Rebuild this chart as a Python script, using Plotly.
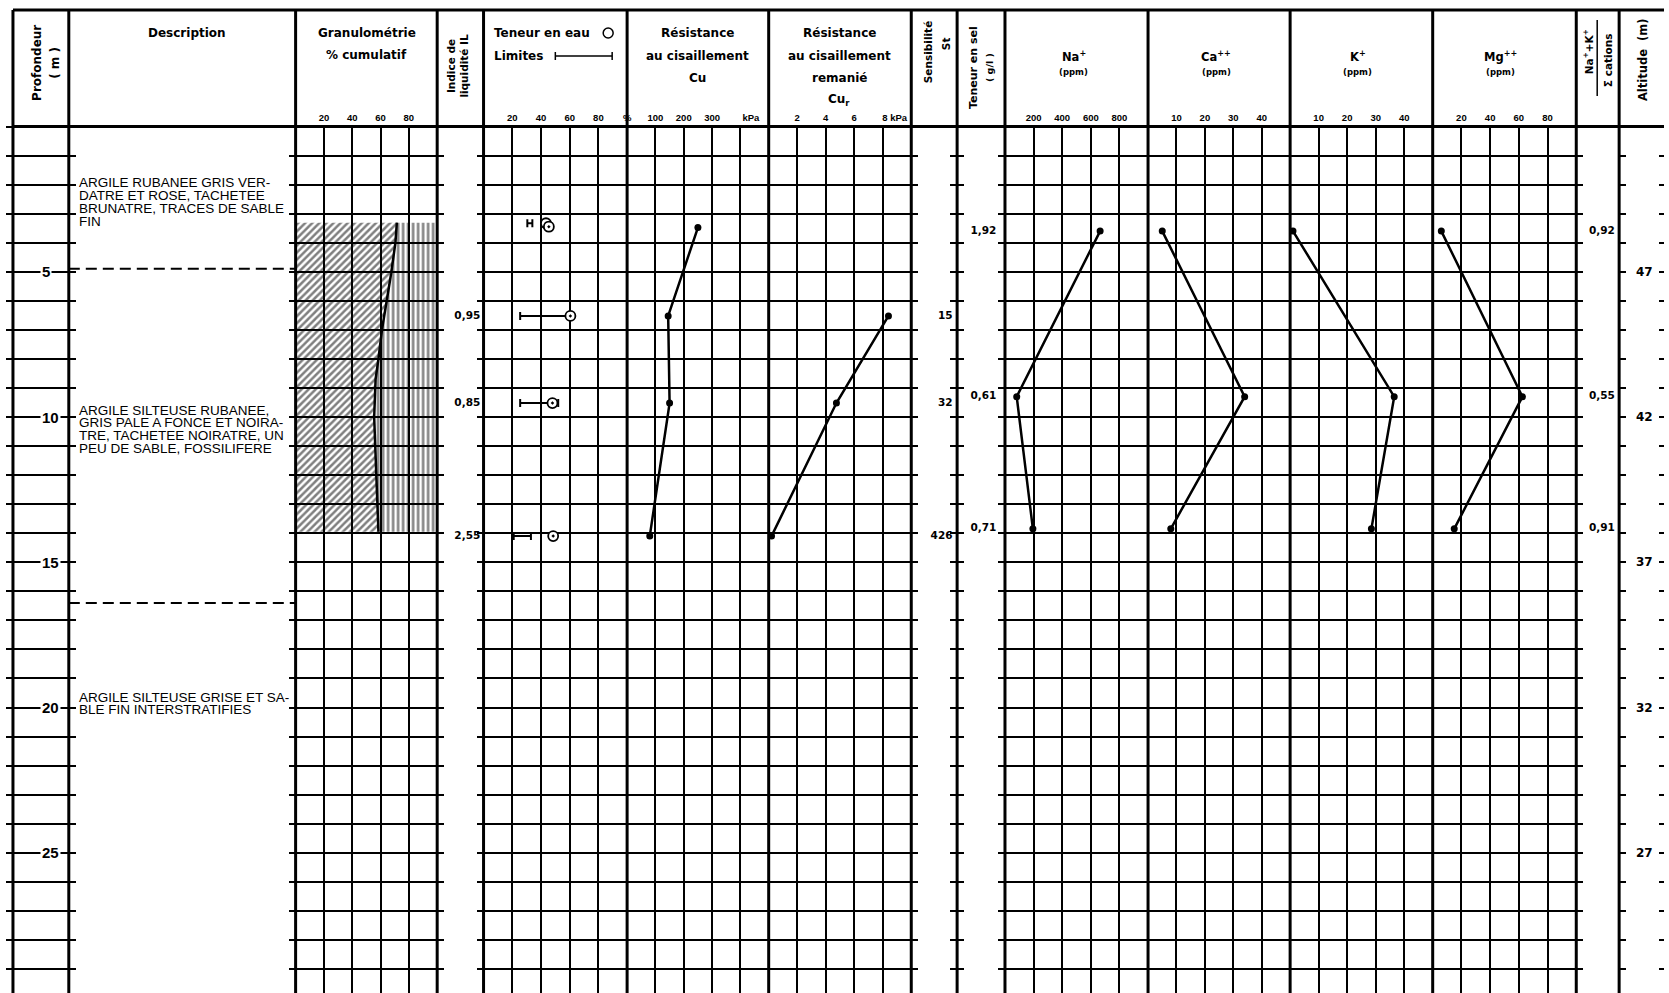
import plotly.graph_objects as go

# ---------------- borehole data ----------------
depth_ticks = [5, 10, 15, 20, 25]
surface_altitude = 52
altitude_ticks = [47, 42, 37, 32, 27]

layer_boundaries = [4.9, 16.4]
layer_text_depth = [1.94, 9.76, 19.64]
layer_text = [
    ["ARGILE RUBANEE GRIS VER-", "DATRE ET ROSE, TACHETEE",
     "BRUNATRE, TRACES DE SABLE", "FIN"],
    ["ARGILE SILTEUSE RUBANEE,", "GRIS PALE A FONCE ET NOIRA-",
     "TRE, TACHETEE NOIRATRE, UN", "PEU DE SABLE, FOSSILIFERE"],
    ["ARGILE SILTEUSE GRISE ET SA-", "BLE FIN INTERSTRATIFIES"],
]

gran_depth = [3.31, 4.0, 5.05, 6.0, 7.0, 8.0, 8.7, 10.0, 11.0, 12.0, 13.95]
gran_cumul = [71.5, 70.5, 67.5, 64.5, 61.0, 58.5, 56.5, 55.5, 56.0, 57.0, 58.5]
gran_ticks = [20, 40, 60, 80]

il_depth = [6.52, 9.52, 14.1]
il_values = ["0,95", "0,85", "2,55"]

water_depth = [3.33, 3.45, 6.52, 9.52, 14.1]
water_content = [43.5, 45.5, 60.5, 48.0, 48.5]
limits_depth = [3.33, 6.52, 9.52, 14.1]
plastic_limit = [30.5, 25.5, 25.5, 21.0]
liquid_limit = [34.0, 61.0, 52.0, 33.0]
water_ticks = [20, 40, 60, 80, 100]
water_ticktext = ["20", "40", "60", "80", "%"]

cu_depth = [3.48, 6.52, 9.52, 14.1]
cu_values = [250, 145, 150, 80]
cu_ticks = [100, 200, 300, 400]
cu_ticktext = ["100", "200", "300", "kPa"]

cur_depth = [6.52, 9.52, 14.1]
cur_values = [8.4, 4.75, 0.2]
cur_ticks = [2, 4, 6, 8]
cur_ticktext = ["2", "4", "6", "8 kPa"]

st_depth = [6.52, 9.52, 14.1]
st_values = ["15", "32", "426"]

chem_depth = [3.6, 9.3, 13.85]
salt_values = ["1,92", "0,61", "0,71"]
na_ppm = [665, 82, 195]
ca_ppm = [5, 34, 8]
k_ppm = [1, 36.5, 28.5]
mg_ppm = [6, 62.5, 15]
na_ticks = [200, 400, 600, 800]
ca_ticks = [10, 20, 30, 40]
k_ticks = [10, 20, 30, 40]
mg_ticks = [20, 40, 60, 80]
ratio_values = ["0,92", "0,55", "0,91"]

# ---------------- page geometry (pixels) ----------------
W, H = 1669, 993
TOP = 10          # top rule of the header
Y0 = 126.5        # header bottom = depth 0
PX_M = 29.05      # pixels per metre
DMAX = (H - Y0) / PX_M

HEAD_FONT = "DejaVu Sans"
TICK_FONT = "Liberation Sans"
NB = "\u00a0"


def fx(x):
    return x / W


def fy(y):
    return 1 - y / H


names = ["depth", "desc", "gran", "il", "water", "cu", "cur", "st", "salt",
         "na", "ca", "k", "mg", "ratio", "alt"]
edges = [13, 69, 296.5, 438.5, 485, 629, 771, 914, 960, 1008, 1151.5, 1294,
         1437, 1581, 1624, 1669]
grid_panels = {"depth", "gran", "water", "cu", "cur", "na", "ca", "k", "mg"}
scales = {
    "gran": ([0, 100], gran_ticks, [str(v) for v in gran_ticks]),
    "water": ([0, 100], water_ticks, water_ticktext),
    "cu": ([0, 500], cu_ticks, cu_ticktext[:-1] + [NB * 8 + cu_ticktext[-1]]),
    "cur": ([0, 10], cur_ticks,
            cur_ticktext[:-1] + [NB * 9 + cur_ticktext[-1].replace(" ", NB)]),
    "na": ([0, 1000], na_ticks, [str(v) for v in na_ticks]),
    "ca": ([0, 50], ca_ticks, [str(v) for v in ca_ticks]),
    "k": ([0, 50], k_ticks, [str(v) for v in k_ticks]),
    "mg": ([0, 100], mg_ticks, [str(v) for v in mg_ticks]),
}

ax_id = {}
layout = dict(
    width=W, height=H, margin=dict(l=0, r=0, t=0, b=0),
    paper_bgcolor="white", plot_bgcolor="white", showlegend=False,
)
PLOT_DOMAIN = [0, fy(Y0)]

for i, name in enumerate(names, start=1):
    sfx = "" if i == 1 else str(i)
    ax_id[name] = ("x" + sfx, "y" + sfx)
    left, right = edges[i - 1], edges[i]
    xa = dict(domain=[fx(left), fx(right)], anchor="y" + sfx, side="top",
              showline=False, zeroline=False, ticks="", fixedrange=True)
    if name in scales:
        rng, tv, tt = scales[name]
        xa.update(range=rng, tickvals=tv, ticktext=tt, showgrid=True,
                  gridcolor="black", gridwidth=1.5, showticklabels=True,
                  ticklabelstandoff=3, tickangle=0,
                  tickfont=dict(family=TICK_FONT, size=9.5, color="black",
                                weight="bold"))
    else:
        xa.update(range=[0, 1], showgrid=False, showticklabels=False)
    ya = dict(domain=PLOT_DOMAIN, anchor="x" + sfx, range=[DMAX, 0],
              tick0=0, dtick=1, ticks="outside", ticklen=6, tickwidth=2,
              tickcolor="black", mirror=("ticks" if name != "alt" else False),
              showline=False, zeroline=False, showticklabels=False,
              showgrid=name in grid_panels, gridcolor="black", gridwidth=2,
              fixedrange=True)
    layout["xaxis" + sfx] = xa
    layout["yaxis" + sfx] = ya

# altitude scale on the right-hand column
ALT_AXIS = "y16"
layout["yaxis16"] = dict(
    overlaying=ax_id["alt"][1], anchor=ax_id["alt"][0], side="right",
    domain=PLOT_DOMAIN,
    range=[surface_altitude - DMAX, surface_altitude],
    tick0=surface_altitude, dtick=1,
    ticks="inside", ticklen=5, tickwidth=2, tickcolor="black",
    showticklabels=False, showline=False, showgrid=False,
    zeroline=False, fixedrange=True,
)

fig = go.Figure()


def ax(name):
    x, y = ax_id[name]
    return dict(xaxis=x, yaxis=y)


BLACK = "black"

# ---- granulometry: clay (diagonal hatch) and silt (vertical hatch) ----
fig.add_trace(go.Scatter(
    x=gran_cumul + [0, 0], y=gran_depth + [gran_depth[-1], gran_depth[0]],
    mode="lines", fill="toself", line=dict(width=0, color=BLACK),
    fillcolor="rgba(0,0,0,0)",
    fillpattern=dict(shape="/", size=5, solidity=0.5, fgcolor=BLACK,
                     bgcolor="rgba(0,0,0,0)"),
    hoverinfo="skip", **ax("gran")))
fig.add_trace(go.Scatter(
    x=gran_cumul + [100, 100], y=gran_depth + [gran_depth[-1], gran_depth[0]],
    mode="lines", fill="toself", line=dict(width=0, color=BLACK),
    fillcolor="rgba(0,0,0,0)",
    fillpattern=dict(shape="|", size=5, solidity=0.5, fgcolor=BLACK,
                     bgcolor="rgba(0,0,0,0)"),
    hoverinfo="skip", **ax("gran")))
fig.add_trace(go.Scatter(x=gran_cumul, y=gran_depth, mode="lines",
                         line=dict(color=BLACK, width=2.5), **ax("gran")))

# ---- water content and Atterberg limits ----
fig.add_trace(go.Scatter(
    x=[(p + l) / 2 for p, l in zip(plastic_limit, liquid_limit)],
    y=limits_depth, mode="markers",
    marker=dict(size=1, color="rgba(0,0,0,0)"),
    error_x=dict(type="data", symmetric=True,
                 array=[(l - p) / 2 for p, l in zip(plastic_limit, liquid_limit)],
                 width=4, thickness=2, color=BLACK),
    **ax("water")))
fig.add_trace(go.Scatter(
    x=water_content, y=water_depth, mode="markers",
    marker=dict(symbol="circle-dot", size=10, color="white",
                line=dict(color=BLACK, width=1.8)),
    **ax("water")))

# ---- undrained shear strength, intact and remoulded ----
line_style = dict(color=BLACK, width=2.5)
dot = dict(color=BLACK, size=7)
fig.add_trace(go.Scatter(x=cu_values, y=cu_depth, mode="lines+markers",
                         line=line_style, marker=dot, **ax("cu")))
fig.add_trace(go.Scatter(x=cur_values, y=cur_depth, mode="lines+markers",
                         line=line_style, marker=dot, **ax("cur")))

# ---- pore-water cations ----
for name, vals in (("na", na_ppm), ("ca", ca_ppm), ("k", k_ppm), ("mg", mg_ppm)):
    fig.add_trace(go.Scatter(x=vals, y=chem_depth, mode="lines+markers",
                             line=line_style, marker=dot, **ax(name)))

# ---- value columns ----
val_font = dict(family=HEAD_FONT, size=10.5, color=BLACK, weight="bold")
for name, depths, texts, xpos, pos in (
        ("il", il_depth, il_values, 0.93, "middle left"),
        ("st", st_depth, st_values, 0.9, "middle left"),
        ("salt", chem_depth, salt_values, 0.28, "middle right"),
        ("ratio", chem_depth, ratio_values, 0.9, "middle left")):
    fig.add_trace(go.Scatter(x=[xpos] * len(depths), y=depths, mode="text",
                             text=texts, textposition=pos, textfont=val_font,
                             **ax(name)))

# ---------------- decorations ----------------
shapes = []


def hline(y, x0, x1, w=3, dash=None):
    shapes.append(dict(type="line", xref="paper", yref="paper",
                       x0=fx(x0), x1=fx(x1), y0=fy(y), y1=fy(y),
                       line=dict(color=BLACK, width=w, dash=dash)))


def vline(x, y0, y1, w=3):
    shapes.append(dict(type="line", xref="paper", yref="paper",
                       x0=fx(x), x1=fx(x), y0=fy(y0), y1=fy(y1),
                       line=dict(color=BLACK, width=w)))


for e in edges[:-1]:
    vline(e, TOP, H)
hline(TOP, 13, W)
hline(Y0, 13, W)

# layer boundaries in the description column
for b in layer_boundaries:
    shapes.append(dict(type="line", xref="paper", yref=ax_id["desc"][1],
                       x0=fx(69), x1=fx(296.5), y0=b, y1=b,
                       line=dict(color=BLACK, width=2, dash="11px,6px")))

# header legend symbols
shapes.append(dict(type="circle", xref="paper", yref="paper",
                   x0=fx(605), x1=fx(615), y0=fy(38), y1=fy(28),
                   line=dict(color=BLACK, width=1.5)))
hline(56, 557, 614, 1.5)
vline(557, 52, 60, 1.5)
vline(614, 52, 60, 1.5)
vline(1602, 20, 96, 1.5)

annotations = []


def header(x, y, text, size=12, angle=0, anchor="center"):
    annotations.append(dict(
        xref="paper", yref="paper", x=fx(x), y=fy(y), text=f"<b>{text}</b>",
        showarrow=False, textangle=angle, xanchor=anchor, yanchor="middle",
        font=dict(family=HEAD_FONT, size=size, color=BLACK)))


header(37, 63, "Profondeur", 12, -90)
header(55, 63, "( m )", 12, -90)
header(188, 33, "Description", 12)
header(368, 33, "Granulométrie", 12)
header(368, 55, "% cumulatif", 12)
header(459, 66, "Indice de<br>liquidité IL", 10.5, -90)
header(493, 33, "Teneur en eau", 12, 0, "left")
header(493, 56, "Limites", 12, 0, "left")
for cx, lines in ((700, ["Résistance", "au cisaillement", "Cu"]),
                  (842, ["Résistance", "au cisaillement", "remanié",
                         "Cu<sub>r</sub>"])):
    for j, t in enumerate(lines):
        header(cx, 33 + j * 22.5, t, 12)
header(931, 52, "Sensibilité", 10.5, -90)
header(949, 44, "St", 10.5, -90)
header(977, 68, "Teneur en sel", 11, -90)
header(993, 68, "( g/l )", 9.5, -90)
for cx, ion in ((1077, "Na<sup>+</sup>"), (1220, "Ca<sup>++</sup>"),
                (1362, "K<sup>+</sup>"), (1505, "Mg<sup>++</sup>")):
    header(cx, 56, ion, 11.5)
    header(cx, 72, "(ppm)", 8.5)
header(1592, 52, "Na<sup>+</sup>+K<sup>+</sup>", 10.5, -90)
header(1613, 60, "Σ cations", 10.5, -90)
header(1648, 60, "Altitude  (m)", 11.5, -90)

# depth labels on the depth column
for d in depth_ticks:
    annotations.append(dict(
        xref="paper", yref=ax_id["depth"][1], x=fx(40), y=d,
        text=f"<b>{d}</b>", showarrow=False, bgcolor="white", borderpad=1,
        font=dict(family=TICK_FONT, size=15, color=BLACK)))

# altitude labels on the right-hand column
for a in altitude_ticks:
    annotations.append(dict(
        xref="paper", yref=ALT_AXIS, x=fx(1660), y=a, xanchor="right",
        text=f"<b>{a}</b>", showarrow=False,
        font=dict(family=HEAD_FONT, size=12, color=BLACK)))

# soil descriptions
LINE_M = 12.75 / PX_M
for top, lines in zip(layer_text_depth, layer_text):
    for j, t in enumerate(lines):
        annotations.append(dict(
            xref="paper", yref=ax_id["desc"][1], x=fx(77), y=top + j * LINE_M,
            text=t, showarrow=False, xanchor="left", yanchor="middle",
            font=dict(family="Liberation Sans", size=13.5, color=BLACK)))

layout["shapes"] = shapes
layout["annotations"] = annotations
fig.update_layout(**layout)
fig.write_html("out.html")
